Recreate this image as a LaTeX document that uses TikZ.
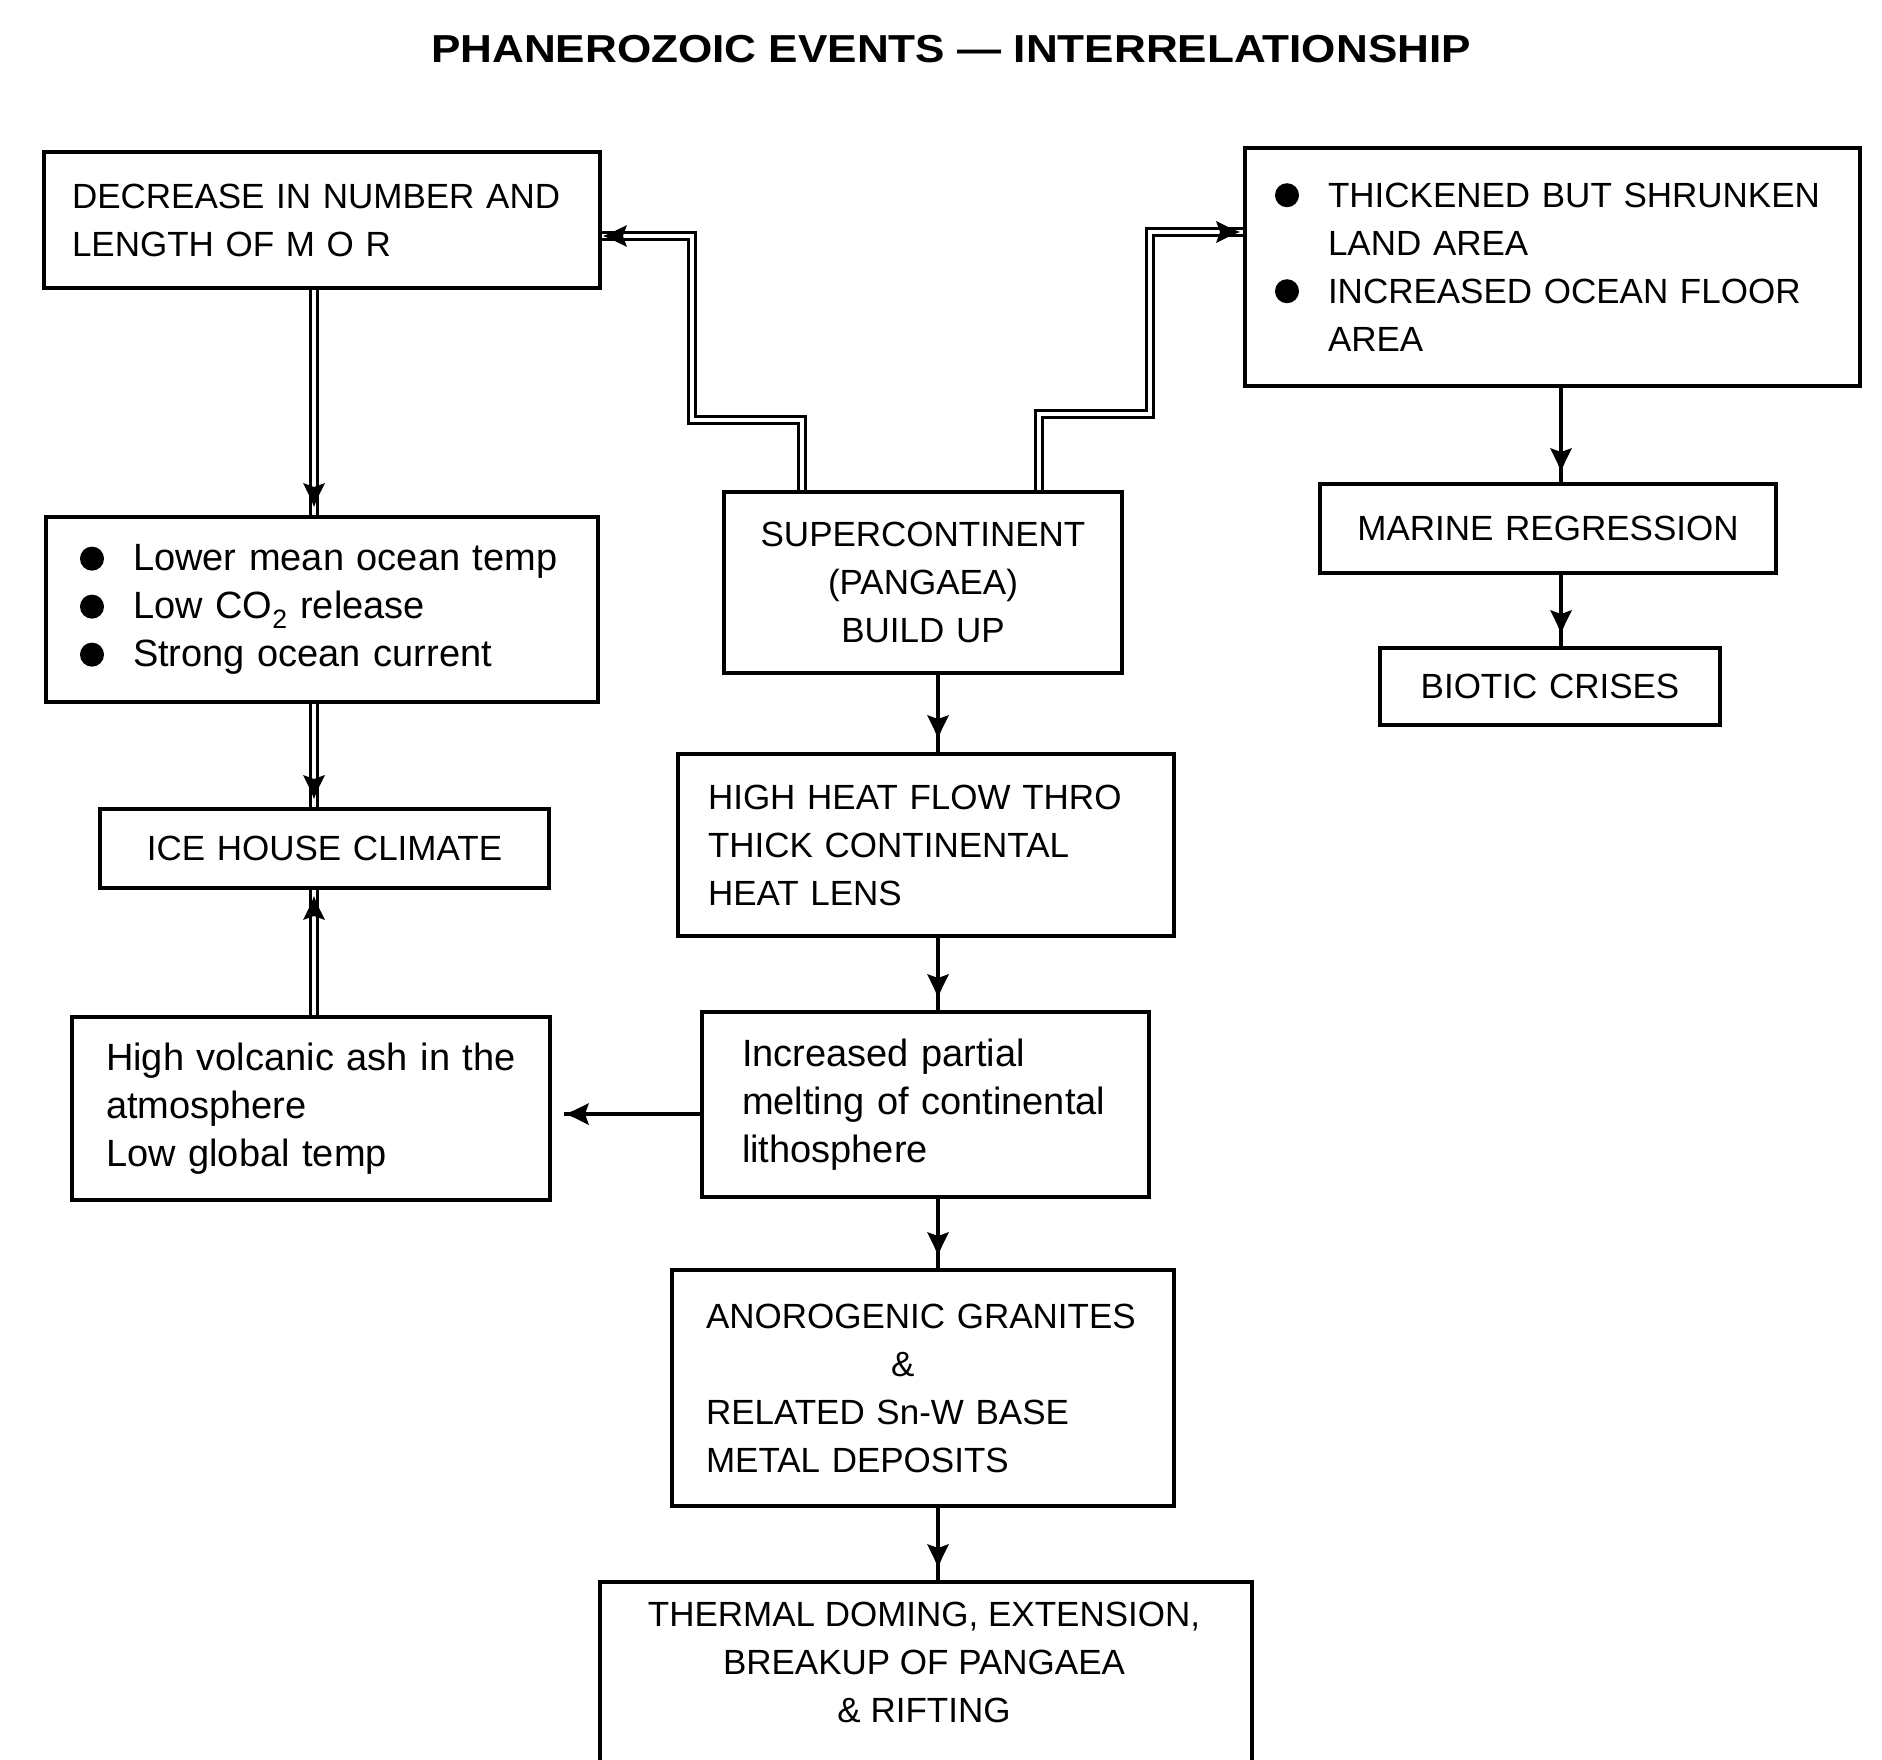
\documentclass[tikz,border=0pt]{standalone}
\usepackage{fontspec}
\setmainfont{Liberation Sans}
\usetikzlibrary{decorations.markings}
\newcommand\capsz{\fontsize{35}{48}\selectfont}
\newcommand\lowsz{\fontsize{38}{48}\selectfont}
\newcommand\bul{\makebox[53pt][l]{\tikz[x=1pt,y=1pt,baseline=-12pt]\fill (12,0) circle[radius=12];}}
\newcommand\bulind{\hspace*{53pt}}
\tikzset{
  box/.style={draw, line width=4pt, inner ysep=0pt, font=\capsz},
  conn/.style={draw, line width=4.5pt},
  dbl/.style={draw, line width=2.8pt, double=white, double distance=4.5pt},
  tipat/.style={postaction={decorate}, decoration={markings,
      mark=at position #1 with {\fill (0pt,0pt) .. controls (-8pt,3pt) .. (-24pt,11pt) -- (-20pt,0pt) -- (-24pt,-11pt) .. controls (-8pt,-3pt) .. (0pt,0pt) -- cycle;}}},
}
\begin{document}
\begin{tikzpicture}[x=1pt,y=-1pt]
\useasboundingbox (0,0) rectangle (1882,1760);
\fill[white] (0,0) rectangle (1882,1760);

% title
\node[font=\bfseries\fontsize{39}{39}\selectfont] (T) at (951,49)
  {\scalebox{1.13}[1]{PHANEROZOIC EVENTS — INTERRELATIONSHIP}};

% boxes
\node[box, align=left, text width=500pt, inner xsep=28pt, minimum height=136pt] (A) at (322,220)
  {DECREASE IN NUMBER AND\\LENGTH OF M O R};
\node[box, align=left, text width=555pt, inner xsep=30pt, minimum height=238pt] (B) at (1552.5,267)
  {\bul THICKENED BUT SHRUNKEN\\\bulind LAND AREA\\\bul INCREASED OCEAN FLOOR\\\bulind AREA};
\node[box, font=\lowsz, align=left, text width=484pt, inner xsep=34pt, minimum height=185pt] (C) at (322,609.5)
  {\bul Lower mean ocean temp\\\bul Low CO\textsubscript{2} release\\\bul Strong ocean current};
\node[box, align=center, text width=358pt, inner xsep=20pt, minimum height=181pt] (D) at (923,582.5)
  {SUPERCONTINENT\\(PANGAEA)\\BUILD UP};
\node[box, align=center, text width=416pt, inner xsep=20pt, minimum height=89pt] (E) at (1548,528.5)
  {MARINE REGRESSION};
\node[box, align=center, text width=300pt, inner xsep=20pt, minimum height=77pt] (F) at (1550,686.5)
  {BIOTIC CRISES};
\node[box, align=left, text width=436pt, inner xsep=30pt, minimum height=182pt] (G) at (926,845)
  {HIGH HEAT FLOW THRO\\THICK CONTINENTAL\\HEAT LENS};
\node[box, align=center, text width=409pt, inner xsep=20pt, minimum height=79pt] (H) at (324.5,848.5)
  {ICE HOUSE CLIMATE};
\node[box, font=\lowsz, align=left, text width=410pt, inner xsep=34pt, minimum height=183pt] (I) at (311,1108.5)
  {High volcanic ash in the\\atmosphere\\Low global temp};
\node[box, font=\lowsz, align=left, text width=367pt, inner xsep=40pt, minimum height=185pt] (J) at (925.5,1104.5)
  {Increased partial\\melting of continental\\lithosphere};
\node[box, align=left, text width=434pt, inner xsep=34pt, minimum height=236pt] (K) at (923,1388)
  {ANOROGENIC GRANITES\\\hspace*{185pt}\&\\RELATED Sn-W BASE\\METAL DEPOSITS};
\node[box, anchor=north, minimum width=652pt, minimum height=260pt] (L) at (926,1580) {};
\node[font=\capsz, align=center] (Lt) at (924,1662)
  {THERMAL DOMING, EXTENSION,\\BREAKUP OF PANGAEA\\\& RIFTING};

% helper coordinates
\coordinate (xl) at (314,0);
\coordinate (xc) at (938,0);
\coordinate (xr) at (1561,0);
\coordinate (Ifree) at (564,1114);
\coordinate (a1) at (802,420);
\coordinate (a2) at (692,420);
\coordinate (a3) at (692,236);
\coordinate (b1) at (1039,414);
\coordinate (b2) at (1150,414);
\coordinate (b3) at (1150,232);

% left column (double lines)
\draw[dbl, tipat=-8pt] (A.south -| xl) -- (C.north -| xl);
\draw[dbl, tipat=-8pt] (C.south -| xl) -- (H.north -| xl);
\draw[dbl, tipat=-6pt] (I.north -| xl) -- (H.south -| xl);

% elbows from supercontinent
\draw[dbl, tipat=-1pt] (D.north -| a1) -- (a1) -- (a2) -- (a3) -- (A.east |- a3);
\draw[dbl, tipat=-3pt] (D.north -| b1) -- (b1) -- (b2) -- (b3) -- (B.west |- b3);

% centre column
\draw[conn, tipat=-13pt] (D.south -| xc) -- (G.north -| xc);
\draw[conn, tipat=-12pt] (G.south -| xc) -- (J.north -| xc);
\draw[conn, tipat=-12pt] (J.south -| xc) -- (K.north -| xc);
\draw[conn, tipat=-12pt] (K.south -| xc) -- (L.north -| xc);
\draw[conn, tipat=-1pt] (J.west |- Ifree) -- (Ifree);

% right column
\draw[conn, tipat=-10pt] (B.south -| xr) -- (E.north -| xr);
\draw[conn, tipat=-12pt] (E.south -| xr) -- (F.north -| xr);
\end{tikzpicture}
\end{document}
